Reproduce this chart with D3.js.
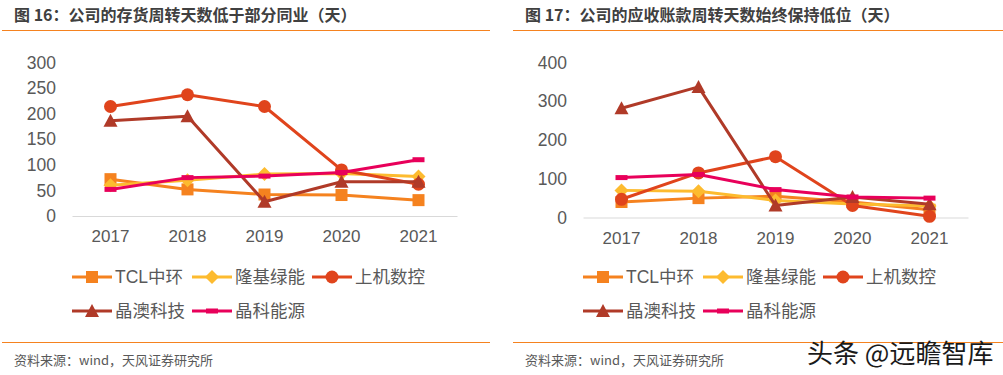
<!DOCTYPE html>
<html>
<head>
<meta charset="utf-8">
<script src="https://cdn.jsdelivr.net/npm/d3@7"></script>
<style>
  body { margin: 0; background: #fff; }
  svg text { font-family: "Liberation Sans", Arial, "Noto Sans CJK SC", sans-serif; }
</style>
</head>
<body>
<div id="chart"></div>
<script>
const years = ["2017", "2018", "2019", "2020", "2021"];
const seriesNames = ["TCL中环", "隆基绿能", "上机数控", "晶澳科技", "晶科能源"];
const seriesColors = ["#F5821F", "#FDBB2F", "#E0441C", "#B03A28", "#E8005A"];
const seriesMarkers = ["square", "diamond", "circle", "triangle", "dash"];

// chart 16: inventory turnover days
const invTCL = [72, 52, 42, 41, 31];
const invLongi = [60, 70, 82, 83, 77];
const invShangji = [214, 237, 214, 90, 62];
const invJA = [186, 195, 28, 67, 67];
const invJinko = [52, 75, 78, 85, 110];
const invTicks = [0, 50, 100, 150, 200, 250, 300];

// chart 17: receivables turnover days
const recTCL = [40, 50, 55, 40, 20];
const recLongi = [70, 68, 44, 35, 30];
const recShangji = [47, 115, 157, 31, 3];
const recJA = [282, 337, 31, 53, 34];
const recJinko = [103, 111, 72, 53, 50];
const recTicks = [0, 100, 200, 300, 400];

const W = 1003, H = 375;
const svg = d3.select("#chart").append("svg")
  .attr("width", W)
  .attr("height", H);

function marker(g, type, color) {
  if (type === "square") {
    g.append("rect").attr("x", -6).attr("y", -6).attr("width", 12).attr("height", 12).attr("fill", color);
  } else if (type === "diamond") {
    g.append("path").attr("d", "M0,-7L7,0L0,7L-7,0Z").attr("fill", color);
  } else if (type === "circle") {
    g.append("circle").attr("r", 6.5).attr("fill", color);
  } else if (type === "triangle") {
    g.append("path").attr("d", "M0,-7L7,6L-7,6Z").attr("fill", color);
  } else {
    g.append("rect").attr("x", -6).attr("y", -2.5).attr("width", 12).attr("height", 5).attr("fill", color);
  }
}

function drawPanel(opt) {
  const g = svg.append("g");

  g.append("text")
    .attr("x", opt.titleX)
    .attr("y", 21)
    .attr("font-size", "16px")
    .attr("font-weight", "bold")
    .attr("fill", "#404040")
    .style("font-family", "'Noto Sans CJK SC', sans-serif")
    .text(opt.title);

  g.append("line")
    .attr("x1", opt.ruleX1).attr("x2", opt.ruleX2)
    .attr("y1", 30.5).attr("y2", 30.5)
    .attr("stroke", "#F5821F").attr("stroke-width", 1.2);

  const x = d3.scaleBand()
    .domain(years)
    .range([opt.x0, opt.x1]);

  const y = d3.scaleLinear()
    .domain([0, opt.yMax])
    .range([opt.y0, 62.5]);

  // y axis labels, no axis line
  g.append("g")
    .attr("transform", `translate(${opt.x0 - 16},0)`)
    .call(d3.axisLeft(y).tickValues(opt.ticks).tickSize(0).tickPadding(0))
    .call(a => a.select(".domain").remove())
    .selectAll("text")
    .attr("font-size", "17.5px")
    .attr("fill", "#595959")
    .style("font-family", "'Liberation Sans', Arial, sans-serif");

  // x axis
  g.append("g")
    .attr("transform", `translate(0,${opt.y0})`)
    .call(d3.axisBottom(x).tickSize(0).tickPadding(14))
    .call(a => a.select(".domain").attr("stroke", "#D9D9D9").attr("stroke-width", 1.2))
    .selectAll("text")
    .attr("font-size", "17px")
    .attr("fill", "#595959")
    .style("font-family", "'Liberation Sans', Arial, sans-serif");

  const line = d3.line()
    .x((d, i) => x(years[i]) + x.bandwidth() / 2)
    .y(d => y(d));

  opt.data.forEach((vals, s) => {
    const sg = g.append("g");
    sg.append("path")
      .datum(vals)
      .attr("d", line)
      .attr("fill", "none")
      .attr("stroke", seriesColors[s])
      .attr("stroke-width", 3)
      .attr("stroke-linejoin", "round");
    vals.forEach((v, i) => {
      const mg = sg.append("g")
        .attr("transform", `translate(${x(years[i]) + x.bandwidth() / 2},${y(v)})`);
      marker(mg, seriesMarkers[s], seriesColors[s]);
    });
  });

  // legend
  const legendPos = [[0, 0], [120, 0], [240, 0], [0, 1], [120, 1]];
  seriesNames.forEach((name, s) => {
    const lx = opt.x0 + legendPos[s][0];
    const ly = 277 + legendPos[s][1] * 34;
    const lg = g.append("g").attr("transform", `translate(${lx},${ly})`);
    lg.append("line")
      .attr("x1", 0).attr("x2", 40)
      .attr("y1", 0).attr("y2", 0)
      .attr("stroke", seriesColors[s]).attr("stroke-width", 3);
    const mg = lg.append("g").attr("transform", "translate(20,0)");
    marker(mg, seriesMarkers[s], seriesColors[s]);
    lg.append("text")
      .attr("x", 43)
      .attr("y", 0)
      .attr("dy", "0.36em")
      .attr("font-size", "17.5px")
      .attr("fill", "#595959")
      .style("font-family", "'Liberation Sans', 'Noto Sans CJK SC', sans-serif")
      .text(name);
  });

  g.append("line")
    .attr("x1", opt.ruleX1).attr("x2", opt.ruleX2)
    .attr("y1", 342.5).attr("y2", 342.5)
    .attr("stroke", "#F5821F").attr("stroke-width", 1.2);

  g.append("text")
    .attr("x", opt.titleX)
    .attr("y", 365)
    .attr("font-size", "13px")
    .attr("fill", "#595959")
    .style("font-family", "'Noto Sans CJK SC', sans-serif")
    .text("资料来源：wind，天风证券研究所");
}

drawPanel({
  title: "图 16：公司的存货周转天数低于部分同业（天）",
  titleX: 14, ruleX1: 2, ruleX2: 490,
  x0: 72, x1: 457, y0: 216, yMax: 300, ticks: invTicks,
  data: [invTCL, invLongi, invShangji, invJA, invJinko]
});

drawPanel({
  title: "图 17：公司的应收账款周转天数始终保持低位（天）",
  titleX: 525, ruleX1: 513, ruleX2: 1003,
  x0: 583, x1: 968, y0: 217.5, yMax: 400, ticks: recTicks,
  data: [recTCL, recLongi, recShangji, recJA, recJinko]
});

svg.append("text")
  .attr("x", 807)
  .attr("y", 363)
  .attr("font-size", "26px")
  .attr("fill", "#1a1a1a")
  .style("font-family", "'Noto Sans CJK SC', sans-serif")
  .text("头条 @远瞻智库");
</script>
</body>
</html>
